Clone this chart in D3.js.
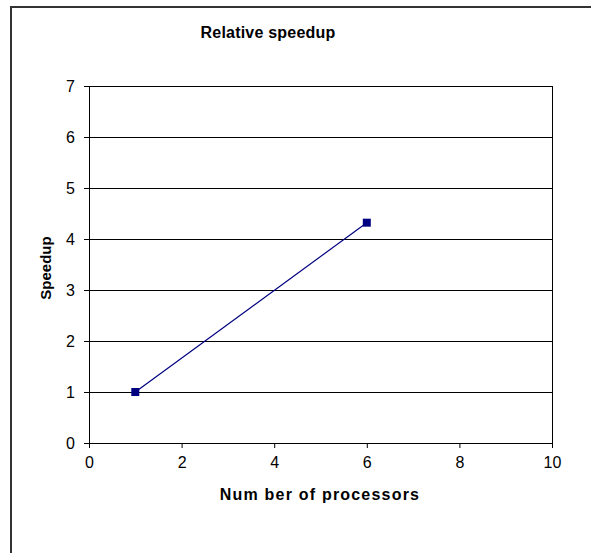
<!DOCTYPE html>
<meta charset="UTF-8">
<style>
  body { margin: 0; background: #fff; }
  text { font-family: Arial, "Liberation Sans", sans-serif; fill: #000; }
</style>
<body>
<script src="https://d3js.org/d3.v7.min.js"></script>
<script>
// data
var processors = [1, 6];
var speedup = [1, 4.32];
var xTicks = [0, 2, 4, 6, 8, 10];
var yTicks = [0, 1, 2, 3, 4, 5, 6, 7];

var W = 591, H = 553;
var margin = {top: 86, right: 39, bottom: 110, left: 89};
var width = W - margin.left - margin.right,
    height = H - margin.top - margin.bottom;

var svg = d3.select("body").append("svg")
    .attr("width", W)
    .attr("height", H);

// outer chart frame
svg.append("rect")
    .attr("x", 11).attr("y", 7)
    .attr("width", W).attr("height", H)
    .attr("fill", "none").attr("stroke", "#333").attr("stroke-width", 2);

var g = svg.append("g")
    .attr("transform", "translate(" + margin.left + "," + margin.top + ")");

var x = d3.scaleLinear().domain([0, 10]).range([0, width]);
var y = d3.scaleLinear().domain([0, 7]).range([height, 0]);

// horizontal gridlines
g.append("g")
  .selectAll("line")
  .data(yTicks)
  .enter().append("line")
    .attr("x1", 0).attr("x2", width)
    .attr("y1", function(d) { return Math.round(y(d)) + 0.5; })
    .attr("y2", function(d) { return Math.round(y(d)) + 0.5; })
    .attr("stroke", "#000");

// right border of plot
g.append("line")
    .attr("x1", width + 0.5).attr("x2", width + 0.5)
    .attr("y1", 0).attr("y2", height)
    .attr("stroke", "#000");

var xAxis = g.append("g")
    .attr("transform", "translate(0," + height + ")")
    .call(d3.axisBottom(x).tickValues(xTicks).tickFormat(d3.format("d")).tickSize(5).tickPadding(9));
var yAxis = g.append("g")
    .call(d3.axisLeft(y).tickValues(yTicks).tickFormat(d3.format("d")).tickSize(5).tickPadding(9));
[xAxis, yAxis].forEach(function(a) {
  a.attr("font-size", null).attr("font-family", null);
  a.select(".domain").attr("stroke", "#000");
  a.selectAll(".tick line").attr("stroke", "#000");
  a.selectAll(".tick text").attr("fill", "#222").style("font-size", "16px");
});

// series
var pts = processors.map(function(p, i) { return {x: p, y: speedup[i]}; });
g.append("path")
    .datum(pts)
    .attr("fill", "none")
    .attr("stroke", "#000080")
    .attr("stroke-width", 1.2)
    .attr("d", d3.line().x(function(d) { return x(d.x); }).y(function(d) { return y(d.y); }));

g.selectAll("rect.marker")
  .data(pts)
  .enter().append("rect")
    .attr("class", "marker")
    .attr("x", function(d) { return x(d.x) - 4; })
    .attr("y", function(d) { return y(d.y) - 4; })
    .attr("width", 8).attr("height", 8)
    .attr("fill", "#000080");

// titles
svg.append("text")
    .attr("x", 268).attr("y", 38)
    .attr("text-anchor", "middle")
    .style("font-size", "16px").style("font-weight", "bold")
    .style("letter-spacing", "0.2px")
    .text("Relative speedup");

svg.append("text")
    .attr("x", 320).attr("y", 500)
    .attr("text-anchor", "middle")
    .style("font-size", "16px").style("font-weight", "bold")
    .style("letter-spacing", "1.2px")
    .text("Num ber of processors");

svg.append("text")
    .attr("transform", "translate(51,268) rotate(-90)")
    .attr("text-anchor", "middle")
    .style("font-size", "15px").style("font-weight", "bold")
    .text("Speedup");
</script>
</body>
